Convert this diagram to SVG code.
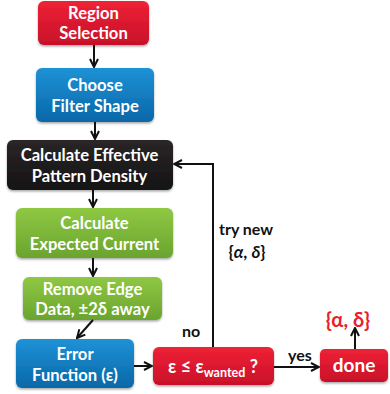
<svg xmlns="http://www.w3.org/2000/svg" width="390" height="394" viewBox="0 0 390 394">
<defs>
<linearGradient id="gRed" x1="0" y1="0" x2="0" y2="1"><stop offset="0" stop-color="#EE2235"/><stop offset="1" stop-color="#C8102A"/></linearGradient>
<linearGradient id="gBlue" x1="0" y1="0" x2="0" y2="1"><stop offset="0" stop-color="#1E92D6"/><stop offset="1" stop-color="#0867A8"/></linearGradient>
<linearGradient id="gBlack" x1="0" y1="0" x2="0" y2="1"><stop offset="0" stop-color="#2A2627"/><stop offset="1" stop-color="#151313"/></linearGradient>
<linearGradient id="gGreen" x1="0" y1="0" x2="0" y2="1"><stop offset="0" stop-color="#8FC843"/><stop offset="1" stop-color="#6AA42E"/></linearGradient>
<filter id="sh" x="-10%" y="-10%" width="120%" height="130%"><feDropShadow dx="0" dy="1.5" stdDeviation="1.2" flood-color="#000" flood-opacity="0.35"/></filter>
<marker id="ah" viewBox="0 0 10 10" refX="9" refY="5" markerWidth="10" markerHeight="10" markerUnits="userSpaceOnUse" orient="auto"><path d="M1,1 L9,5 L1,9" fill="none" stroke="#111" stroke-width="2"/></marker>
</defs>
<style>
.box{filter:url(#sh);}
.t{font-family:Lato,"Open Sans","Liberation Sans",sans-serif;font-weight:bold;font-size:16.6px;fill:#fff;text-anchor:middle;}
.lbl{font-family:Lato,"Open Sans","Liberation Sans",sans-serif;font-weight:bold;font-size:16px;fill:#111;}
.c{fill:none;stroke:#111;stroke-width:2;}
</style>
<g id="n-region"><rect class="box" x="38" y="1" width="111" height="44" rx="6" fill="url(#gRed)"/><text class="t" x="93.5" y="19">Region</text><text class="t" x="93.5" y="39">Selection</text></g>
<g id="n-filter"><rect class="box" x="36" y="68" width="118" height="54" rx="6" fill="url(#gBlue)"/><text class="t" x="95" y="91">Choose</text><text class="t" x="95" y="112">Filter Shape</text></g>
<g id="n-density"><rect class="box" x="7" y="140" width="166" height="50" rx="6" fill="url(#gBlack)"/><text class="t" x="89.5" y="161">Calculate Effective</text><text class="t" x="89.5" y="182">Pattern Density</text></g>
<g id="n-current"><rect class="box" x="16" y="208" width="157" height="50" rx="6" fill="url(#gGreen)"/><text class="t" x="94.5" y="229">Calculate</text><text class="t" x="94.5" y="250">Expected Current</text></g>
<g id="n-edge"><rect class="box" x="23" y="277" width="139" height="43" rx="6" fill="url(#gGreen)"/><text class="t" x="92.5" y="295">Remove Edge</text><text class="t" x="92.5" y="315">Data, ±2δ away</text></g>
<g id="n-error"><rect class="box" x="16" y="339" width="118" height="49" rx="6" fill="url(#gBlue)"/><text class="t" x="75" y="360">Error</text><text class="t" x="75" y="381">Function (ε)</text></g>
<g id="n-check"><rect class="box" x="153" y="347" width="121" height="38" rx="6" fill="url(#gRed)"/><text class="t" x="213" y="373" style="font-size:18px">ε ≤ ε<tspan dy="4" style="font-size:12.5px">wanted</tspan><tspan dy="-4"> ?</tspan></text></g>
<g id="n-done"><rect class="box" x="320" y="349" width="68" height="33" rx="5" fill="url(#gRed)"/><text class="t" x="354" y="372" style="font-size:19px">done</text></g>
<g id="connectors">
<line class="c" x1="94" y1="45" x2="94" y2="67" marker-end="url(#ah)"/>
<line class="c" x1="95" y1="122" x2="95" y2="139" marker-end="url(#ah)"/>
<line class="c" x1="93" y1="190" x2="93" y2="207" marker-end="url(#ah)"/>
<line class="c" x1="93" y1="258" x2="93" y2="276" marker-end="url(#ah)"/>
<line class="c" x1="93" y1="320" x2="77" y2="338" marker-end="url(#ah)"/>
<line class="c" x1="134" y1="366" x2="152" y2="366" marker-end="url(#ah)"/>
<polyline class="c" points="213,347 213,164 174,164" marker-end="url(#ah)"/>
<line class="c" x1="274" y1="367" x2="319" y2="367" marker-end="url(#ah)"/>
<line class="c" x1="355" y1="349" x2="355" y2="328" marker-end="url(#ah)"/>
</g>
<g id="labels">
<text class="lbl" x="219" y="235">try new</text>
<text class="lbl" x="247" y="258" text-anchor="middle" style="font-size:17px">{<tspan font-style="italic">α</tspan>, <tspan font-style="italic">δ</tspan>}</text>
<text class="lbl" x="182" y="337">no</text>
<text class="lbl" x="288" y="361">yes</text>
<text class="lbl" x="348" y="327" text-anchor="middle" style="fill:#E8202E;font-size:20px">{α, δ}</text>
</g>
</svg>
